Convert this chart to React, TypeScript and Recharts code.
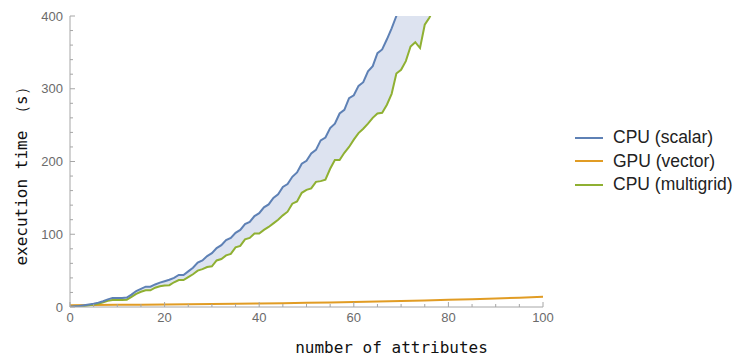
import {
  ComposedChart,
  Area,
  Line,
  XAxis,
  YAxis,
} from "recharts";

// attribute counts 0..100
const attrs = Array.from({ length: 101 }, (_, i) => i);

// execution time (s), one value per attribute count (0..77)
const cpuScalar = [
  0.5, 1, 1.5, 2.5, 3.5, 4.5, 6, 8, 10.5, 12.5, 12.5, 12.5, 13, 17, 22, 25, 28, 28, 31, 33.5,
  35.5, 37.5, 40, 44, 44, 49, 54, 61, 64, 70, 74, 81, 85, 92, 95, 102, 106, 114, 117, 125,
  129, 137, 141, 150, 155, 165, 169, 179, 185, 197, 201, 211, 216, 229, 233, 246, 252, 266, 271, 287,
  291, 304, 309, 324, 331, 349, 354, 368, 383, 400, 417, 433, 450, 467, 484, 501, 518, 535,
];
const cpuMultigrid = [
  0, 0.5, 1, 1.5, 2.5, 3.5, 4.5, 6.5, 8.5, 9.5, 9.5, 9.5, 10, 14, 18, 21, 23, 23, 26.5, 28.5,
  29.5, 30, 34, 37, 37, 41, 45, 50, 52, 55, 56, 64, 66, 71, 73, 82, 84, 93, 95, 101,
  101, 106, 110, 115, 120, 126, 131, 142, 145, 157, 161, 163, 172, 173, 175, 190, 202, 202, 212, 220,
  230, 239, 245, 252, 260, 266, 267, 278, 293, 321, 326, 338, 358, 364, 356, 388, 398, 412,
];
// GPU sampled every 5 attributes
const gpuVector = [
  2.5, 2.7, 3, 3.2, 3.5, 3.8, 4.1, 4.5, 4.9, 5.3, 5.8, 6.3, 6.9, 7.5, 8.2, 9, 9.8, 10.7, 11.7, 12.8, 14,
];

const xTicks = Array.from({ length: 21 }, (_, i) => i * 5);
const yTicks = Array.from({ length: 21 }, (_, i) => i * 20);

const series = [
  { key: "scalar", name: "CPU (scalar)", color: "#5e81b5" },
  { key: "vector", name: "GPU (vector)", color: "#e19c24" },
  { key: "multigrid", name: "CPU (multigrid)", color: "#8fb032" },
];

const data = attrs.map((x) => ({
  x,
  scalar: cpuScalar[x] ?? null,
  multigrid: cpuMultigrid[x] ?? null,
  vector: x % 5 === 0 ? gpuVector[x / 5] : null,
}));

const band = (d: any) =>
  d.scalar != null && d.multigrid != null ? [d.multigrid, d.scalar] : null;

const AXIS = "#a6a6a6";
const TICK_TEXT = "#6b6b6b";
const MONO = "'DejaVu Sans Mono', monospace";

function XTick({ x, y, payload }: any) {
  const major = payload.value % 20 === 0;
  return (
    <g>
      <line x1={x} x2={x} y1={y} y2={y - (major ? 5 : 3)} stroke={AXIS} />
      {major && (
        <text x={x} y={y + 15} textAnchor="middle" fill={TICK_TEXT} fontSize={13} fontFamily="Arial, 'Liberation Sans', sans-serif">
          {payload.value}
        </text>
      )}
    </g>
  );
}

function YTick({ x, y, payload }: any) {
  const major = payload.value % 100 === 0;
  return (
    <g>
      <line x1={x} x2={x + (major ? 5 : 3)} y1={y} y2={y} stroke={AXIS} />
      {major && (
        <text x={x - 7} y={y + 4.5} textAnchor="end" fill={TICK_TEXT} fontSize={13} fontFamily="Arial, 'Liberation Sans', sans-serif">
          {payload.value}
        </text>
      )}
    </g>
  );
}

export default function App() {
  return (
    <div style={{ position: "absolute", left: 0, top: 0, width: 740, height: 358, background: "#fff" }}>
      <ComposedChart
        width={740}
        height={358}
        data={data}
        margin={{ top: 16, right: 197, left: 0, bottom: 0 }}
      >
        <XAxis
          dataKey="x"
          type="number"
          domain={[0, 100]}
          ticks={xTicks}
          interval={0}
          height={51}
          stroke={AXIS}
          tickSize={0}
          tickMargin={0}
          tick={<XTick />}
          label={{
            value: "number of attributes",
            position: "insideBottom",
            offset: 5,
            dx: 85,
            style: { fontFamily: MONO, fontSize: 16, fill: "#111" },
          }}
        />
        <YAxis
          type="number"
          domain={[0, 400]}
          allowDataOverflow
          ticks={yTicks}
          interval={0}
          width={70}
          stroke={AXIS}
          tickSize={0}
          tickMargin={0}
          tick={<YTick />}
          label={{
            value: "execution time （s）",
            angle: -90,
            position: "insideLeft",
            offset: 5,
            dx: 16,
            dy: 11,
            style: { fontFamily: MONO, fontSize: 16, fill: "#111", textAnchor: "middle" },
          }}
        />
        <Area
          dataKey={band}
          type="linear"
          stroke="none"
          fill="#dde3f0"
          fillOpacity={1}
          isAnimationActive={false}
          connectNulls={false}
        />
        <Line
          dataKey="vector"
          type="linear"
          stroke="#e19c24"
          strokeWidth={2}
          dot={false}
          connectNulls
          isAnimationActive={false}
        />
        <Line
          dataKey="multigrid"
          type="linear"
          stroke="#8fb032"
          strokeWidth={2}
          dot={false}
          isAnimationActive={false}
        />
        <Line
          dataKey="scalar"
          type="linear"
          stroke="#5e81b5"
          strokeWidth={2}
          dot={false}
          isAnimationActive={false}
        />
      </ComposedChart>
      <div
        style={{
          position: "absolute",
          left: 575,
          top: 126,
          fontFamily: "Arial, 'Liberation Sans', sans-serif",
          fontSize: 17.5,
          color: "#222",
        }}
      >
        {series.map((s) => (
          <div key={s.key} style={{ display: "flex", alignItems: "center", height: 23.5 }}>
            <span style={{ display: "inline-block", width: 28, height: 2, background: s.color, marginRight: 10 }} />
            <span>{s.name}</span>
          </div>
        ))}
      </div>
    </div>
  );
}
